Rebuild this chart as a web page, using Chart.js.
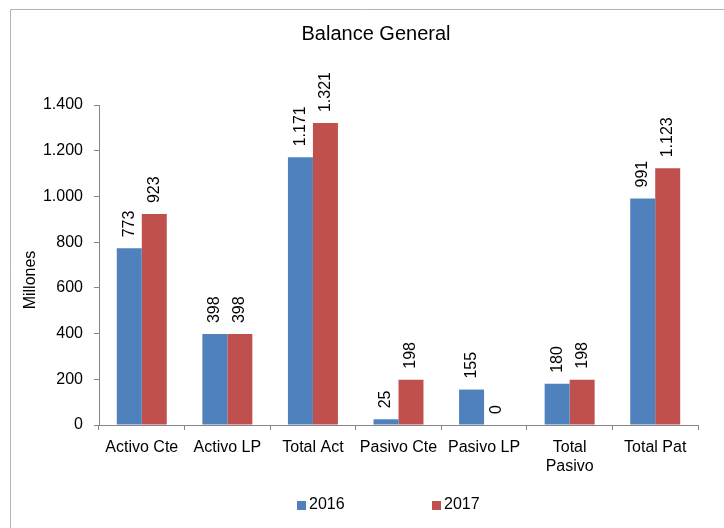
<!DOCTYPE html>
<html>
<head>
<meta charset="utf-8">
<script src="https://cdn.jsdelivr.net/npm/chart.js@4.4.1/dist/chart.umd.min.js"></script>
<style>
  html, body { margin: 0; padding: 0; background: #ffffff; }
  #wrap { width: 724px; height: 528px; position: relative; }
</style>
</head>
<body>
<div id="wrap"><canvas id="c" width="724" height="528"></canvas></div>
<script>
const chartTitle = 'Balance General';
const yAxisTitle = 'Millones';
const categories = ['Activo Cte', 'Activo LP', 'Total Act', 'Pasivo Cte', 'Pasivo LP', ['Total', 'Pasivo'], 'Total Pat'];
const seriesNames = ['2016', '2017'];
const values2016 = [773, 398, 1171, 25, 155, 180, 991];
const values2017 = [923, 398, 1321, 198, 0, 198, 1123];
const yTicks = [0, 200, 400, 600, 800, 1000, 1200, 1400];

const FONT = '"Liberation Sans", Arial, sans-serif';
const BLUE = '#4F81BD';
const RED = '#C0504D';
const AXIS = '#868686';

function fmt(v) {
  return String(v).replace(/\B(?=(\d{3})+(?!\d))/g, '.');
}

const decorPlugin = {
  id: 'decor',
  beforeDraw(chart) {
    const ctx = chart.ctx;
    ctx.save();
    ctx.fillStyle = '#ffffff';
    ctx.fillRect(0, 0, chart.width, chart.height);
    // chart border (top and left visible)
    ctx.strokeStyle = '#b4b4b4';
    ctx.lineWidth = 1;
    ctx.beginPath();
    ctx.moveTo(10.5, chart.height);
    ctx.lineTo(10.5, 9.5);
    ctx.lineTo(chart.width, 9.5);
    ctx.stroke();
    ctx.restore();
  },
  afterDatasetsDraw(chart) {
    const ctx = chart.ctx;
    ctx.save();
    ctx.fillStyle = '#000000';
    ctx.font = '16px ' + FONT;
    ctx.textAlign = 'left';
    ctx.textBaseline = 'middle';
    chart.data.datasets.forEach((ds, di) => {
      const meta = chart.getDatasetMeta(di);
      meta.data.forEach((el, i) => {
        ctx.save();
        ctx.translate(el.x, el.y - 11);
        ctx.rotate(-Math.PI / 2);
        ctx.fillText(fmt(ds.data[i]), 0, 0);
        ctx.restore();
      });
    });
    ctx.restore();
  },
  afterDraw(chart) {
    const ctx = chart.ctx;
    const area = chart.chartArea;
    ctx.save();
    ctx.fillStyle = '#000000';
    // title
    ctx.font = '20px ' + FONT;
    ctx.textAlign = 'center';
    ctx.textBaseline = 'middle';
    ctx.fillText(chartTitle, 376, 34);
    // y axis title
    ctx.save();
    ctx.font = '16px ' + FONT;
    ctx.translate(31, 280);
    ctx.rotate(-Math.PI / 2);
    ctx.fillText(yAxisTitle, 0, 0);
    ctx.restore();
    // legend
    ctx.font = '16px ' + FONT;
    ctx.textAlign = 'left';
    const legendX = [297, 432];
    chart.data.datasets.forEach((ds, di) => {
      const x = legendX[di];
      ctx.fillStyle = ds.backgroundColor;
      ctx.fillRect(x, 501, 9, 9);
      ctx.fillStyle = '#000000';
      ctx.fillText(ds.label, x + 12, 505);
    });
    ctx.restore();
  }
};

new Chart(document.getElementById('c'), {
  type: 'bar',
  data: {
    labels: categories,
    datasets: [
      { label: seriesNames[0], data: values2016, backgroundColor: BLUE, borderWidth: 0 },
      { label: seriesNames[1], data: values2017, backgroundColor: RED, borderWidth: 0 }
    ]
  },
  options: {
    responsive: false,
    animation: false,
    devicePixelRatio: 1,
    layout: { padding: { left: 10, right: 26, top: 105, bottom: 41 } },
    datasets: { bar: { categoryPercentage: 0.584, barPercentage: 1.0 } },
    plugins: {
      legend: { display: false },
      title: { display: false },
      tooltip: { enabled: false }
    },
    scales: {
      x: {
        offset: true,
        grid: { offset: true, drawOnChartArea: false, drawTicks: true, tickLength: 5, color: AXIS },
        border: { color: AXIS, width: 1 },
        ticks: {
          color: '#000000',
          font: { family: FONT, size: 16 },
          padding: 8,
          maxRotation: 0,
          minRotation: 0,
          autoSkip: false
        },
        afterFit(scale) { scale.height = 62; }
      },
      y: {
        min: 0,
        max: 1400,
        afterBuildTicks(scale) { scale.ticks = yTicks.map(v => ({ value: v })); },
        grid: { drawOnChartArea: false, drawTicks: true, tickLength: 5, color: AXIS },
        border: { color: AXIS, width: 1 },
        ticks: {
          color: '#000000',
          font: { family: FONT, size: 16 },
          padding: 11,
          callback: (v) => fmt(v)
        },
        afterFit(scale) { scale.width = 89; }
      }
    }
  },
  plugins: [decorPlugin]
});
</script>
</body>
</html>
